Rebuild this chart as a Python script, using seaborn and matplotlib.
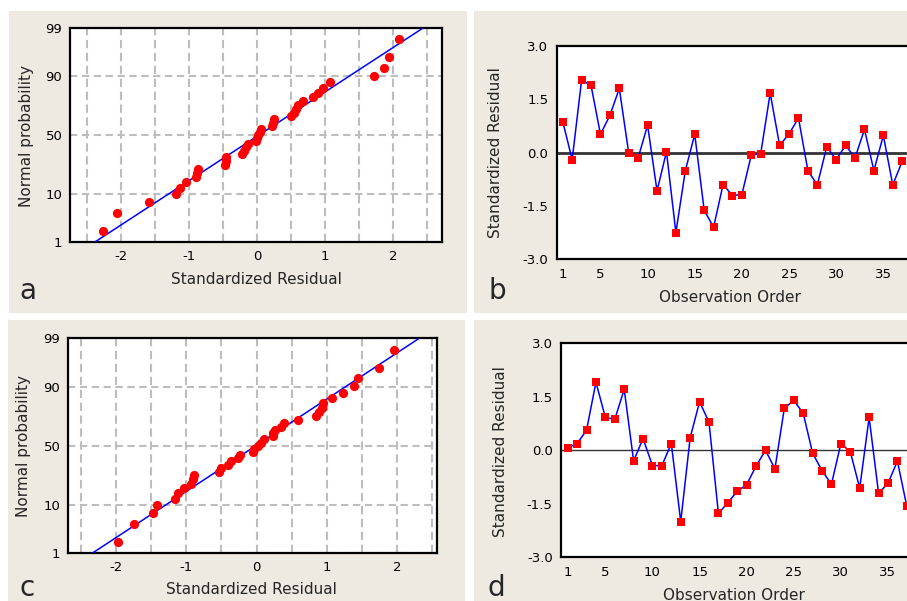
import numpy as np
import pandas as pd
import matplotlib
matplotlib.use("Agg")
import matplotlib.pyplot as plt
import seaborn as sns
from statistics import NormalDist
from matplotlib.patches import Rectangle

# ---------------- data ----------------
# standardized residuals shown in the normal probability plots (a, c)
resid_a = [-2.26, -2.06, -1.59, -1.19, -1.13, -1.04, -0.90, -0.88, -0.87,
           -0.47, -0.46, -0.45, -0.22, -0.19, -0.16, -0.13, -0.02, 0.00,
           0.02, 0.04, 0.06, 0.22, 0.24, 0.25, 0.50, 0.54, 0.57, 0.60,
           0.67, 0.82, 0.90, 0.97, 1.08, 1.72, 1.86, 1.94, 2.09]
resid_c = [-1.97, -1.74, -1.48, -1.42, -1.16, -1.12, -1.03, -0.94, -0.91,
           -0.89, -0.54, -0.51, -0.40, -0.37, -0.27, -0.24, -0.05, -0.03,
           0.02, 0.07, 0.10, 0.23, 0.24, 0.26, 0.35, 0.39, 0.59, 0.85,
           0.89, 0.93, 0.95, 1.08, 1.23, 1.39, 1.45, 1.75, 1.96]

# residuals versus observation order (b, d)
order = list(range(1, 38))
resid_b = [0.87, -0.20, 2.03, 1.89, 0.51, 1.04, 1.80, -0.02, -0.15, 0.77,
           -1.08, 0.02, -2.25, -0.51, 0.51, -1.62, -2.10, -0.90, -1.21, -1.18,
           -0.07, -0.03, 1.67, 0.20, 0.52, 0.97, -0.51, -0.91, 0.16, -0.20,
           0.20, -0.15, 0.65, -0.51, 0.48, -0.91, -0.25]
resid_d = [0.07, 0.19, 0.56, 1.91, 0.92, 0.87, 1.71, -0.30, 0.33, -0.43,
           -0.43, 0.19, -2.00, 0.35, 1.36, 0.79, -1.77, -1.47, -1.15, -0.96,
           -0.44, 0.00, -0.52, 1.18, 1.40, 1.04, -0.08, -0.57, -0.95, 0.19,
           -0.04, -1.06, 0.92, -1.20, -0.93, -0.30, -1.57]

prob_ticks = [1, 10, 50, 90, 99]
prob_xticks = [-2, -1, 0, 1, 2]
resid_ticks = [-3.0, -1.5, 0.0, 1.5, 3.0]
order_ticks = [1, 5, 10, 15, 20, 25, 30, 35]

# ---------------- style ----------------
sns.set_style("white")
plt.rcParams['font.family'] = ['DejaVu Sans']

W, H = 907, 601
fig = plt.figure(figsize=(W / 100, H / 100), dpi=100)
fig.patch.set_facecolor('white')

BEIGE = '#EEEAE1'
RED = '#FF0000'
BLUE = '#0000FF'
GRID = '#BDBDBD'
TICK_FS = 9.5
LABEL_FS = 11


def panel_bg(x0, y0, x1, y1):
    fig.patches.append(Rectangle((x0 / W, 1 - y1 / H), (x1 - x0) / W, (y1 - y0) / H,
                                 transform=fig.transFigure, facecolor=BEIGE,
                                 edgecolor='none', zorder=-10))


def axes_px(l, t, r, b):
    ax = fig.add_axes([l / W, 1 - b / H, (r - l) / W, (b - t) / H])
    ax.set_facecolor('white')
    return ax


def ftext(x, y, s, **kw):
    fig.text(x / W, 1 - y / H, s, **kw)


panel_bg(9, 11, 466.7, 312.7)
panel_bg(474, 11, 907, 313)
panel_bg(8, 320, 465, 601)
panel_bg(474, 320, 907, 601)

nd = NormalDist()


def style_spines(ax, right=True):
    for name, sp in ax.spines.items():
        sp.set_color('black')
        sp.set_linewidth(1.6)
    if not right:
        ax.spines['right'].set_visible(False)


def prob_panel(ax, resid, xlim):
    r = np.sort(np.asarray(resid, dtype=float))
    n = len(r)
    ranks = np.arange(1, n + 1)
    p = (ranks - 0.3) / (n + 0.4)
    z = np.array([nd.inv_cdf(v) for v in p])
    df = pd.DataFrame({'resid': r, 'z': z})
    zlim = np.array([nd.inv_cdf(0.01), nd.inv_cdf(0.99)])
    mu, sd = r.mean(), r.std(ddof=1)
    fit = pd.DataFrame({'x': mu + sd * zlim, 'z': zlim})
    sns.lineplot(data=fit, x='x', y='z', ax=ax, color=BLUE, lw=1.1, zorder=3,
                 sort=False)
    sns.scatterplot(data=df, x='resid', y='z', ax=ax, color=RED, s=44,
                    marker='o', linewidth=0, zorder=4)
    ax.set_xlim(xlim)
    ax.set_ylim(zlim[0], zlim[1])
    ax.set_xticks(prob_xticks)
    ax.set_xticklabels([str(t) for t in prob_xticks])
    ax.set_xticks(np.arange(-2.5, 2.51, 0.5), minor=True)
    ax.set_yticks([nd.inv_cdf(t / 100) for t in prob_ticks])
    ax.set_yticklabels([str(t) for t in prob_ticks])
    ax.set_axisbelow(True)
    ax.grid(True, which='both', axis='x', color=GRID, ls=(0, (4, 2.2)), lw=1.5)
    ax.grid(True, which='major', axis='y', color=GRID, ls=(0, (3.5, 2.2)), lw=1.5)
    ax.tick_params(axis='both', which='major', direction='out', length=3.5,
                   width=1.2, pad=2, labelsize=TICK_FS, colors='black')
    ax.tick_params(axis='x', which='minor', length=0)
    ax.set_xlabel('')
    ax.set_ylabel('')
    style_spines(ax)


def order_panel(ax, resid, xlim, zero_lw):
    df = pd.DataFrame({'order': order, 'resid': resid})
    ax.axhline(0, color='#333333', lw=zero_lw, zorder=1)
    sns.lineplot(data=df, x='order', y='resid', ax=ax, color=BLUE, lw=1.1,
                 zorder=3)
    sns.scatterplot(data=df, x='order', y='resid', ax=ax, color=RED, s=36,
                    marker='s', linewidth=0, zorder=4)
    ax.set_xlim(xlim)
    ax.set_ylim(-3.0, 3.0)
    ax.set_xticks(order_ticks)
    ax.set_xticklabels([str(t) for t in order_ticks])
    ax.set_yticks(resid_ticks)
    ax.set_yticklabels([f'{t:.1f}' for t in resid_ticks])
    ax.tick_params(axis='both', which='major', direction='out', length=3.5,
                   width=1.2, pad=2.5, labelsize=TICK_FS, colors='black')
    ax.set_xlabel('')
    ax.set_ylabel('')
    style_spines(ax, right=False)


# panel a
ax_a = axes_px(70, 28, 442, 242)
prob_panel(ax_a, resid_a, (-2.75, 2.72))
# panel b
ax_b = axes_px(556.7, 45.7, 907, 259.3)
order_panel(ax_b, resid_b, (0.36, 37.51), 2.0)
# panel c
ax_c = axes_px(68, 338.3, 437, 553)
prob_panel(ax_c, resid_c, (-2.685, 2.57))
# panel d
ax_d = axes_px(561, 343.3, 907, 557.3)
order_panel(ax_d, resid_d, (0.29, 37.02), 1.0)

# axis labels
ftext(256, 280, 'Standardized Residual', ha='center', va='center', fontsize=LABEL_FS)
ftext(26, 136, 'Normal probability', ha='center', va='center', rotation=90, fontsize=LABEL_FS)
ftext(729.7, 297.7, 'Observation Order', ha='center', va='center', fontsize=LABEL_FS)
ftext(495, 152.5, 'Standardized Residual', ha='center', va='center', rotation=90, fontsize=LABEL_FS)
ftext(251.7, 590, 'Standardized Residual', ha='center', va='center', fontsize=LABEL_FS)
ftext(23.3, 445.8, 'Normal probability', ha='center', va='center', rotation=90, fontsize=LABEL_FS)
ftext(734, 595, 'Observation Order', ha='center', va='center', fontsize=LABEL_FS)
ftext(500, 452, 'Standardized Residual', ha='center', va='center', rotation=90, fontsize=LABEL_FS)

# panel letters
ftext(27.5, 299, 'a', ha='center', va='baseline', fontsize=20)
ftext(497.5, 299, 'b', ha='center', va='baseline', fontsize=20)
ftext(27.5, 596, 'c', ha='center', va='baseline', fontsize=20)
ftext(496.5, 596, 'd', ha='center', va='baseline', fontsize=20)

fig.savefig('out.png', dpi=100, facecolor=fig.get_facecolor())
